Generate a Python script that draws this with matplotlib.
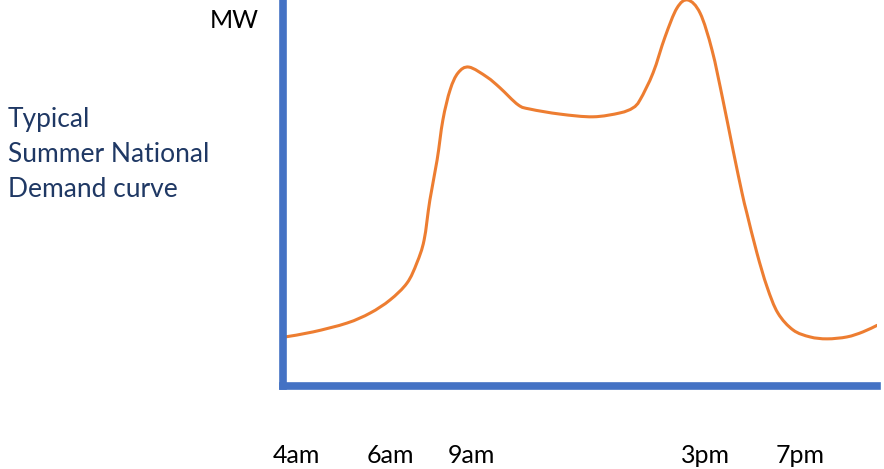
import numpy as np
import matplotlib
matplotlib.use('Agg')
from matplotlib import pyplot as plt
from matplotlib.path import Path
from matplotlib.patches import PathPatch

# sketch of a summer demand day, hours vs MW (arbitrary scale, peak = 100)
hours = [4.06, 4.83, 5.77, 6.41, 6.96, 7.43, 7.70, 7.90, 8.06, 8.26,
         8.42, 8.62, 8.84, 9.14, 9.64, 10.00, 10.50, 10.83, 11.66, 12.57,
         13.31, 13.67, 13.87, 14.23, 14.56, 14.89, 15.19, 15.53, 15.86, 16.16,
         16.44, 16.69, 16.82, 17.10, 17.38, 17.68, 18.10, 18.57, 19.04, 19.59,
         20.03, 20.42]
demand = [12.6, 13.9, 16.2, 18.8, 22.2, 26.6, 31.8, 37.7, 48.1, 58.5,
          68.9, 76.7, 81.1, 82.6, 80.0, 77.2, 72.8, 71.7, 70.4, 69.7,
          70.7, 72.0, 74.1, 81.1, 90.4, 97.9, 100.0, 96.6, 87.0, 74.1,
          61.1, 49.9, 44.8, 34.4, 25.6, 18.8, 14.4, 12.6, 12.1, 12.6,
          13.9, 15.6]

tick_labels = ['4am', '6am', '9am', '3pm', '7pm']
tick_hours = [4.36, 6.96, 9.22, 15.69, 18.29]   # where they sit on the sketch

BLUE = '#4472C4'
ORANGE = '#ED7D31'
NAVY = '#1F3864'
FONT = 'Lato'


def smooth_path(x, y):
    # catmull-rom through the read points, as cubic bezier segments
    p = np.column_stack([x, y])
    p = np.vstack([p[0], p, p[-1]])
    verts = [p[1]]
    codes = [Path.MOVETO]
    for i in range(1, len(p) - 2):
        c1 = p[i] + (p[i + 1] - p[i - 1]) / 6.0
        c2 = p[i + 1] - (p[i + 2] - p[i]) / 6.0
        verts += [c1, c2, p[i + 1]]
        codes += [Path.CURVE4] * 3
    return Path(verts, codes)


fig = plt.figure(figsize=(8.84, 4.69), dpi=100)
ax = fig.add_axes([283 / 884., 83.5 / 469., 594 / 884., 385.5 / 469.])

ax.add_patch(PathPatch(smooth_path(hours, demand), fill=False,
                       edgecolor=ORANGE, lw=2.2, capstyle='round'))
ax.set_xlim(4, 20.42)
ax.set_ylim(0, 100)

for s in ['top', 'right']:
    ax.spines[s].set_visible(False)
for s in ['left', 'bottom']:
    ax.spines[s].set_color(BLUE)
    ax.spines[s].set_linewidth(5.5)
    ax.spines[s].set_capstyle('projecting')

ax.set_yticks([])
ax.set_xticks(tick_hours)
ax.set_xticklabels(tick_labels, fontfamily=FONT, fontsize=18)
ax.tick_params(axis='x', length=0, pad=42)

fig.text(234 / 884., 1 - 20 / 469., 'MW', ha='center', va='center',
         fontfamily=FONT, fontsize=18, color='black')
fig.text(8 / 884., 1 - 107 / 469., 'Typical\nSummer National\nDemand curve',
         ha='left', va='top', fontfamily=FONT, fontsize=19, color=NAVY,
         linespacing=1.5)

fig.savefig('out.png', dpi=100)
